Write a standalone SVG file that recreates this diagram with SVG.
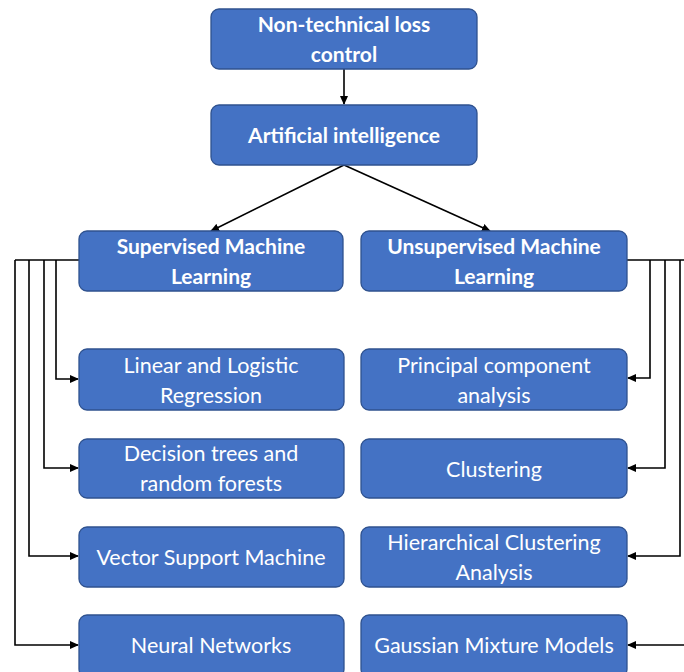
<svg xmlns="http://www.w3.org/2000/svg" width="684" height="672" viewBox="0 0 684 672">
<defs>
<marker id="ah" markerWidth="9" markerHeight="9" refX="8" refY="4.5" orient="auto" markerUnits="userSpaceOnUse">
<path d="M0,0.5 L9,4.5 L0,8.5 Z" fill="#000"/>
</marker>
<style>
.box{fill:#4472C4;stroke:#2F528F;stroke-width:1.3}
.t{font-family:Lato,"Liberation Sans",sans-serif;font-size:21.5px;fill:#fff;text-anchor:middle}
.b{font-weight:bold;font-size:21px}
.c{fill:none;stroke:#000;stroke-width:1.6}
</style>
</defs>
<rect width="684" height="672" fill="#fff"/>
<g id="connectors">
<path class="c" d="M344,69 V104" marker-end="url(#ah)"/>
<path class="c" d="M344,165 L211,231" marker-end="url(#ah)"/>
<path class="c" d="M344,165 L490,231" marker-end="url(#ah)"/>
<path class="c" d="M79,260 H15"/>
<path class="c" d="M56,260 V379 H78" marker-end="url(#ah)"/>
<path class="c" d="M44,260 V468 H78" marker-end="url(#ah)"/>
<path class="c" d="M29,260 V556 H78" marker-end="url(#ah)"/>
<path class="c" d="M15,260 V645 H78" marker-end="url(#ah)"/>
<path class="c" d="M627,260 H690"/>
<path class="c" d="M650,260 V378 H628" marker-end="url(#ah)"/>
<path class="c" d="M665,260 V468 H628" marker-end="url(#ah)"/>
<path class="c" d="M680,260 V556 H628" marker-end="url(#ah)"/>
<path class="c" d="M690,645 H628" marker-end="url(#ah)"/>
</g>
<g id="ntl"><rect class="box" x="211" y="9" width="266" height="60" rx="8"/>
<text class="t b" x="344" y="32">Non-technical loss</text><text class="t b" x="344" y="62">control</text></g>
<g id="ai"><rect class="box" x="211" y="105" width="266" height="60" rx="8"/>
<text class="t b" x="344" y="143">Artificial intelligence</text></g>
<g id="sup"><rect class="box" x="79" y="231" width="264" height="60" rx="8"/>
<text class="t b" x="211" y="254">Supervised Machine</text><text class="t b" x="211" y="284">Learning</text></g>
<g id="unsup"><rect class="box" x="361" y="231" width="266" height="60" rx="8"/>
<text class="t b" x="494" y="254">Unsupervised Machine</text><text class="t b" x="494" y="284">Learning</text></g>
<g id="linear"><rect class="box" x="79" y="349" width="265" height="61" rx="8"/>
<text class="t" x="211" y="373">Linear and Logistic</text><text class="t" x="211" y="403">Regression</text></g>
<g id="dtree"><rect class="box" x="79" y="439" width="265" height="59" rx="8"/>
<text class="t" x="211" y="461">Decision trees and</text><text class="t" x="211" y="491">random forests</text></g>
<g id="svm"><rect class="box" x="79" y="527" width="265" height="60" rx="8"/>
<text class="t" x="211" y="565">Vector Support Machine</text></g>
<g id="nn"><rect class="box" x="79" y="615" width="265" height="62" rx="8"/>
<text class="t" x="211" y="653">Neural Networks</text></g>
<g id="pca"><rect class="box" x="361" y="349" width="266" height="61" rx="8"/>
<text class="t" x="494" y="373">Principal component</text><text class="t" x="494" y="403">analysis</text></g>
<g id="clust"><rect class="box" x="361" y="439" width="266" height="59" rx="8"/>
<text class="t" x="494" y="477">Clustering</text></g>
<g id="hca"><rect class="box" x="361" y="527" width="266" height="60" rx="8"/>
<text class="t" x="494" y="550">Hierarchical Clustering</text><text class="t" x="494" y="580">Analysis</text></g>
<g id="gmm"><rect class="box" x="361" y="615" width="266" height="62" rx="8"/>
<text class="t" x="494" y="653">Gaussian Mixture Models</text></g>
</svg>
